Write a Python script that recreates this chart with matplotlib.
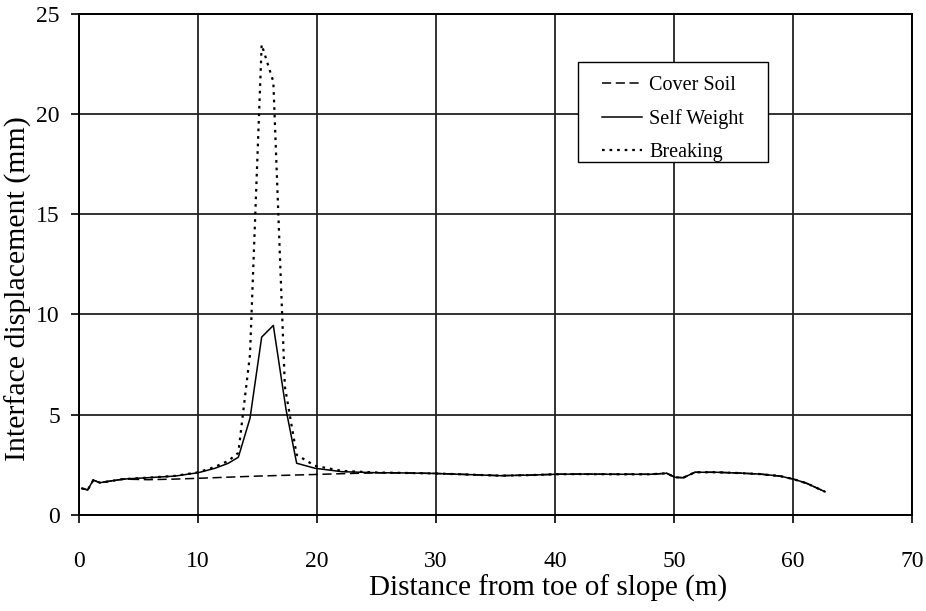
import matplotlib
matplotlib.use("Agg")
import matplotlib.pyplot as plt
from matplotlib.patches import Rectangle
import numpy as np

plt.rcParams['font.family'] = ['Liberation Serif', 'DejaVu Serif']

# Shared start of all three profiles (near toe of slope)
x_head = [0.23, 0.73, 1.20, 1.76, 3.72]
y_head = [1.33, 1.25, 1.74, 1.61, 1.79]

# Shared tail of all three profiles (upper part of slope)
x_tail = [27.0, 30.0, 33.0, 35.4, 38.0, 40.0, 42.0, 45.0, 48.0, 49.39,
          50.08, 50.78, 51.76, 53.58, 55.5, 57.22, 58.91, 60.03, 61.15, 62.69]
y_tail = [2.10, 2.07, 2.01, 1.96, 1.99, 2.03, 2.04, 2.03, 2.03, 2.08,
          1.88, 1.86, 2.13, 2.13, 2.09, 2.04, 1.94, 1.79, 1.58, 1.16]

# Cover Soil
x_cover = [5.82, 8.07, 10.03, 15.0, 19.83, 22.08, 24.87]
y_cover = [1.76, 1.79, 1.83, 1.94, 2.02, 2.06, 2.10]

# Self Weight
x_self = [5.82, 8.07, 10.03, 11.43, 12.55, 13.39, 14.37, 15.35, 16.33,
          17.40, 18.29, 19.83, 22.08, 24.87]
y_self = [1.86, 1.94, 2.11, 2.33, 2.58, 2.88, 4.82, 8.87, 9.45,
          5.25, 2.58, 2.33, 2.16, 2.11]

# Breaking
x_break = [5.82, 8.07, 10.03, 11.43, 12.55, 13.39, 14.37, 15.35, 16.33,
           17.30, 18.29, 19.83, 22.08, 24.87]
y_break = [1.86, 1.95, 2.13, 2.40, 2.70, 3.10, 8.00, 23.45, 21.60,
           6.40, 3.00, 2.45, 2.20, 2.12]

series = [
    ("Cover Soil", x_cover, y_cover, dict(linestyle=(0, (6, 3)), linewidth=1.1)),
    ("Self Weight", x_self, y_self, dict(linestyle='-', linewidth=1.1)),
    ("Breaking", x_break, y_break, dict(linestyle=(0, (1.2, 2.2)), linewidth=1.6)),
]

W, H = 926, 611
fig = plt.figure(figsize=(W / 100, H / 100), dpi=100)
ax = fig.add_axes([79 / W, 1 - 515 / H, 833 / W, 501.5 / H])

for label, xs, ys, style in series:
    ax.plot(np.r_[x_head, xs, x_tail], np.r_[y_head, ys, y_tail],
            color='black', label=label, **style)

ax.set_xlim(0, 70)
ax.set_ylim(0, 25)
ax.set_xticks(np.arange(0, 71, 10))
ax.set_yticks(np.arange(0, 26, 5))
ax.grid(True, color='#222222', linewidth=1.3)
ax.set_axisbelow(True)
for s in ax.spines.values():
    s.set_linewidth(1.4)
    s.set_color('black')
ax.tick_params(direction='out', length=5.8, width=1.2, labelsize=17)
ax.tick_params(axis='y', pad=8)
ax.tick_params(axis='x', pad=20)

ax.set_xlabel("Distance from toe of slope (m)", fontsize=21)
ax.xaxis.set_label_coords((548 - 79) / 833, (515 - 588) / 501.5)
ax.xaxis.label.set_va('center')
ax.set_ylabel("Interface displacement (mm)", fontsize=21.5)
ax.yaxis.set_label_coords((18 - 79) / 833, (515 - 289) / 501.5)
ax.yaxis.label.set_va('center')

# legend box
ax.add_patch(Rectangle((0.599, 0.703), 0.228, 0.200, transform=ax.transAxes,
                       facecolor='white', edgecolor='black', linewidth=1.0,
                       zorder=4))
leg = ax.legend(loc='upper left', bbox_to_anchor=(0.628, 0.876), fontsize=14.5,
                frameon=False, handlelength=2.0, handletextpad=0.35,
                labelspacing=0.7, borderpad=0, borderaxespad=0)
leg.set_zorder(5)

fig.savefig("out.png", dpi=100)
